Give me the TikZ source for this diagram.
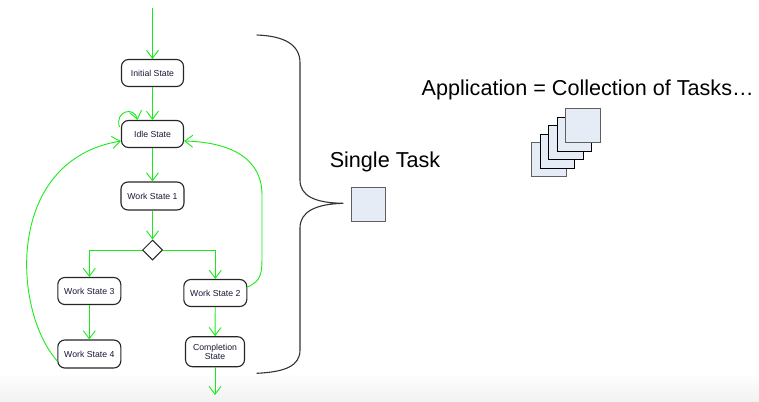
\documentclass[tikz,border=0pt]{standalone}
\usepackage{fontspec}
\setmainfont{Liberation Sans}
\usetikzlibrary{arrows.meta,shapes.geometric}
\definecolor{flow}{RGB}{25,235,25}
\definecolor{taskfill}{RGB}{230,236,246}
\definecolor{taskdraw}{RGB}{95,95,95}
\definecolor{statetext}{RGB}{25,25,55}
\begin{document}
\begin{tikzpicture}[x=1pt,y=-1pt,
  state/.style={draw=black!85, line width=1.1pt, rounded corners=7pt, fill=white,
    minimum width=62pt, minimum height=27pt, inner sep=1pt, align=center,
    font=\fontsize{8.7}{9.6}\selectfont, text=statetext},
  decision/.style={draw=black!85, line width=1pt, diamond, aspect=1, minimum size=20pt, inner sep=0pt, fill=white},
  flowline/.style={draw=flow, line width=0.9pt, -{Straight Barb[length=8pt,width=12pt]}},
  taskbox/.style={fill=taskfill, draw=taskdraw, line width=1pt},
  stackbox/.style={fill=taskfill, draw=black, line width=1pt},
  bigtext/.style={font=\fontsize{21.6}{25}\selectfont, text=black, inner sep=0pt},
  brace/.style={draw=black!80, line width=1.1pt}
]
\useasboundingbox (0,0) rectangle (759,401);
\fill[top color=white, bottom color=black!5] (0,372) rectangle (759,401);

% states
\node[state] (init) at (152.5,73) {Initial State};
\node[state] (idle) at (152.5,134) {Idle State};
\node[state, minimum width=63pt, minimum height=28pt] (ws1) at (152.5,196) {Work State 1};
\node[decision] (dec) at (152.5,250) {};
\node[state, minimum width=63pt] (ws3) at (89.3,291) {Work State 3};
\node[state, minimum width=63pt] (ws2) at (215.3,293) {Work State 2};
\node[state, minimum width=63pt, minimum height=28pt] (ws4) at (89.3,354) {Work State 4};
\node[state, minimum width=59pt, minimum height=30pt] (comp) at (215,351.7) {Completion\\State};

\coordinate (start) at (152.5,8);
\coordinate (finish) at (215,395);

% flows
\draw[flowline] (start) -- (init);
\draw[flowline] (init) -- (idle);
\draw[flowline] (idle) -- (ws1);
\draw[flowline] (ws1) -- (dec);
\draw[flowline] (dec.west) -| (ws3);
\draw[flowline] (dec.east) -| (ws2);
\draw[flowline] (ws3) -- (ws4);
\draw[flowline] (ws2) -- (comp);
\draw[flowline] (comp) -- (finish);
% self loop on idle
\draw[flowline] ([xshift=-1.5pt,yshift=-7pt]idle.north west) .. controls +(-5,-16) and +(-3,-14) .. ([xshift=-15pt]idle.north);
% loop back from work state 4
\draw[flowline] ([yshift=-7pt]ws4.west) .. controls (12,310) and (5,160) .. ([yshift=-7pt]idle.east -| idle.west);
% loop back from work state 2
\draw[flowline] ([yshift=6pt]ws2.east) .. controls (262,281) and (262,272) .. (262,255)
   -- (262,195) .. controls (262,155) and (225,142) .. ([yshift=-7pt]idle.east);

% brace
\draw[brace] (256.7,35) .. controls (285,36) and (300,45) .. (300,63)
  -- (300,180) .. controls (300,196) and (315,203) .. (343.3,203.3)
  .. controls (315,204) and (300,212) .. (300,228)
  -- (300,350) .. controls (300,366) and (285,372) .. (256.7,373.3);

% single task
\node[bigtext] (single) at (385,162) {Single Task};
\node[taskbox, minimum size=34pt, inner sep=0pt] (task) at (368.7,204.5) {};

% application
\node[bigtext] (app) at (587.7,89.5) {Application = Collection of Tasks…};
\filldraw[taskbox] (531.7,142.7) rectangle ++(34.4,34.2);
\filldraw[stackbox] (540.2,134.2) rectangle ++(34.4,34.2);
\filldraw[stackbox] (548.7,125.7) rectangle ++(34.4,34.2);
\filldraw[stackbox] (557.2,117.2) rectangle ++(34.4,34.2);
\filldraw[taskbox] (565.7,108.7) rectangle ++(34.4,34.2);
\end{tikzpicture}
\end{document}
